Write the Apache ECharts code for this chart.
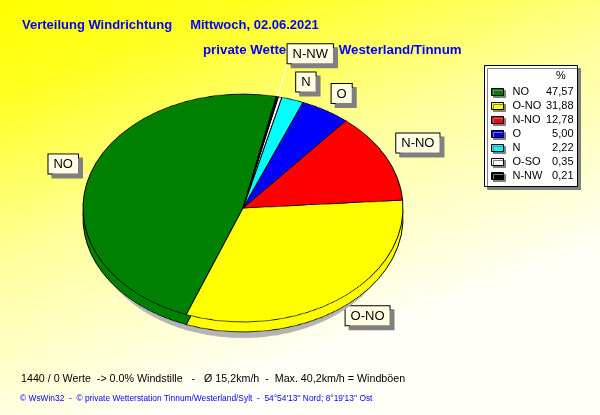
<!DOCTYPE html>
<html><head><meta charset="utf-8">
<script src="https://cdn.jsdelivr.net/npm/echarts@6/dist/echarts.min.js"></script>
<style>
html,body{margin:0;padding:0;background:#fff;}
#wrap{position:relative;width:600px;height:415px;overflow:hidden;}
#main,#pie{position:absolute;left:0;top:0;width:600px;height:415px;}
#pie{transform:scaleY(0.7125);transform-origin:243px 208px;pointer-events:none;}
</style></head><body>
<div id="wrap"><div id="main"></div><div id="pie"></div></div>
<script>
// ---- data ----
const categories = ['NO', 'O-NO', 'N-NO', 'O', 'N', 'O-SO', 'N-NW'];
const percentValues = [47.57, 31.88, 12.78, 5.00, 2.22, 0.35, 0.21];
const sliceColors = ['#008000', '#FFFF00', '#FF0000', '#0000FF', '#00FFFF', '#FFFFFF', '#000000'];
const hiddenLabels = ['O-SO'];
const titleMain = 'Verteilung Windrichtung     Mittwoch, 02.06.2021';
const titleSub = 'private Wetterstation Westerland/Tinnum';
const footerStats = '1440 / 0 Werte  -> 0.0% Windstille   -   Ø 15,2km/h  -  Max. 40,2km/h = Windböen';
const footerCredit = "© WsWin32  -  © private Wetterstation Tinnum/Westerland/Sylt  -  54°54'13'' Nord; 8°19'13'' Ost";
const legendHeader = '%';

// ---- layout ----
const FONT = "'Liberation Sans', Arial, sans-serif";
const CX = 243, CY = 208, R = 160, K = 0.7125, START = 78;
const LINE_LEN = 12;
const lineLenOverride = { 'N-NW': 48 };

const sliceData = categories.map((c, i) => ({ name: c, value: percentValues[i] }));
const fmt = v => v.toFixed(2).replace('.', ',');

// ---- main chart: background, texts, legend, labels ----
const main = echarts.init(document.getElementById('main'), null, { renderer: 'canvas' });
main.setOption({
  animation: false,
  backgroundColor: {
    type: 'linear', x: 0, y: 0, x2: 0.25, y2: 1,
    colorStops: [
      { offset: 0, color: '#FFFF00' },
      { offset: 0.2, color: '#FFFF20' },
      { offset: 0.55, color: '#FFFF9A' },
      { offset: 1, color: '#FFFFF8' }
    ]
  },
  title: [
    { text: titleMain, left: 22, top: 19, padding: 0, z: 0,
      textStyle: { color: '#0000FF', fontWeight: 'bold', fontSize: 13, fontFamily: FONT } },
    { text: titleSub, left: 203, top: 44, padding: 0, z: 0,
      textStyle: { color: '#0000FF', fontWeight: 'bold', fontSize: 13.3, fontFamily: FONT } },
    { text: footerStats, left: 21, top: 374, padding: 0, z: 0,
      textStyle: { color: '#000000', fontWeight: 'normal', fontSize: 10.7, fontFamily: FONT } },
    { text: footerCredit, left: 20, top: 395, padding: 0, z: 0,
      textStyle: { color: '#0000FF', fontWeight: 'normal', fontSize: 8.4, fontFamily: FONT } }
  ],
  graphic: [
    { type: 'rect', z: 1, shape: { x: 484.5, y: 65.5, width: 93, height: 121 },
      style: { fill: '#FFFFFF', stroke: '#000000', lineWidth: 1,
               shadowColor: '#808080', shadowOffsetX: 3, shadowOffsetY: 3, shadowBlur: 0 } },
    { type: 'text', z: 2, x: 556, y: 70,
      style: { text: legendHeader, fill: '#000000', font: '11px ' + FONT } }
  ],
  legend: {
    orient: 'vertical', left: 491, top: 86.5, padding: 0, itemGap: 3,
    itemWidth: 12, itemHeight: 7, icon: 'rect', selectedMode: false, z: 4,
    data: categories.map((c, i) => ({ name: c, itemStyle: { color: sliceColors[i] } })),
    itemStyle: { borderColor: '#000000', borderWidth: 1,
                 shadowColor: '#808080', shadowOffsetX: 2, shadowOffsetY: 2, shadowBlur: 0 },
    formatter: name => '{n|' + name + '}{v|' + fmt(percentValues[categories.indexOf(name)]) + '}',
    textStyle: {
      fontFamily: FONT, fontSize: 11, color: '#000000',
      rich: {
        n: { width: 33, padding: [0, 0, 0, 4], fontSize: 11, fontFamily: FONT, color: '#000000' },
        v: { width: 28, align: 'right', fontSize: 11, fontFamily: FONT, color: '#000000' }
      }
    }
  },
  series: [{
    type: 'pie', center: [CX, CY], radius: R, startAngle: START, clockwise: false,
    silent: true, animation: false, z: 3, avoidLabelOverlap: false,
    itemStyle: { color: 'rgba(0,0,0,0)', borderWidth: 0 },
    data: sliceData.map(d => ({
      name: d.name, value: d.value,
      label: { show: hiddenLabels.indexOf(d.name) < 0 },
      labelLine: { show: hiddenLabels.indexOf(d.name) < 0,
                   length: lineLenOverride[d.name] || LINE_LEN }
    })),
    label: {
      position: 'outside', formatter: '{b}', color: '#000000', fontSize: 13, fontFamily: FONT,
      backgroundColor: '#FFFFE1', borderColor: '#000000', borderWidth: 1,
      padding: [3, 5, 2, 5], lineHeight: 14,
      shadowColor: '#808080', shadowOffsetX: 4, shadowOffsetY: 4, shadowBlur: 0
    },
    labelLine: { show: true, length: LINE_LEN, length2: 0, smooth: false,
                 lineStyle: { color: '#FFFFFF', width: 1 } },
    labelLayout: function (p) {
      const pts = p.labelLinePoints;
      if (!pts || !pts.length) return {};
      const np = pts.map(pt => [pt[0], CY + (pt[1] - CY) * K]);
      const end = np[np.length - 1];
      const right = end[0] >= CX;
      const up = end[1] <= CY;
      return {
        x: end[0], y: end[1],
        align: right ? 'left' : 'right',
        verticalAlign: up ? 'bottom' : 'top',
        labelLinePoints: np
      };
    }
  }]
});

// ---- pie drawing (vertically squashed to an ellipse) ----
const pie = echarts.init(document.getElementById('pie'), null, { renderer: 'canvas' });
const common = { type: 'pie', radius: R, startAngle: START, clockwise: false,
                 silent: true, animation: false, label: { show: false }, labelLine: { show: false } };
pie.setOption({
  animation: false,
  series: [
    Object.assign({}, common, {
      name: 'shadow', center: [CX, CY + 32], radius: R - 10,
      data: sliceData,
      itemStyle: { color: '#B4B4B4', borderColor: '#B4B4B4', borderWidth: 1 }
    }),
    Object.assign({}, common, {
      name: 'side', center: [CX, CY + 14],
      data: sliceData.map((d, i) => ({ name: d.name, value: d.value, itemStyle: { color: sliceColors[i] } })),
      itemStyle: { borderColor: '#000000', borderWidth: 1 }
    }),
    Object.assign({}, common, {
      name: 'top', center: [CX, CY],
      data: sliceData.map((d, i) => ({ name: d.name, value: d.value, itemStyle: { color: sliceColors[i] } })),
      itemStyle: { borderColor: '#000000', borderWidth: 1 }
    })
  ]
});
</script>
</body></html>
